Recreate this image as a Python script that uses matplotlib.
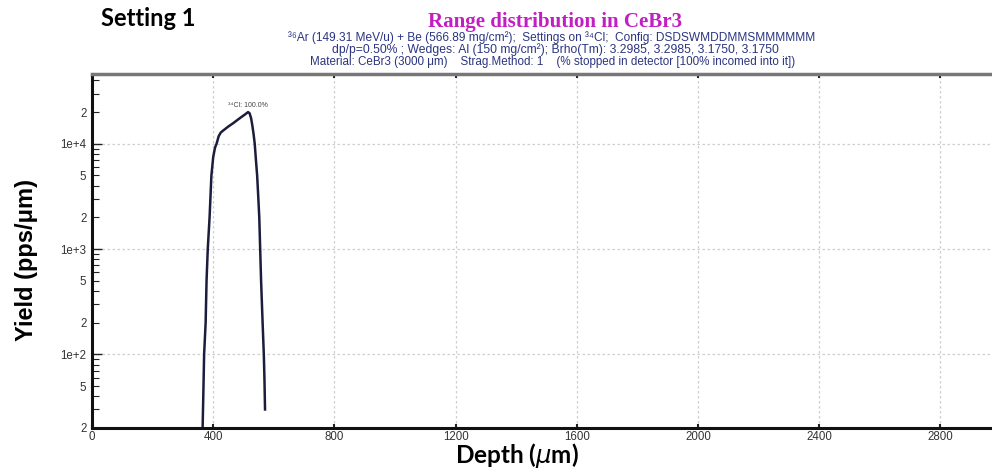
import matplotlib
matplotlib.use("Agg")
import matplotlib.pyplot as plt
from matplotlib.ticker import FixedLocator, FuncFormatter, NullFormatter

# Data
depth = [365, 367, 370, 375, 378, 382, 388, 394, 400, 406, 411, 418, 425, 432,
         450, 466, 490, 505, 515, 520, 525, 529, 533, 537, 541, 545, 549, 552,
         555, 558, 563, 567, 569, 571]
yield_ = [20, 37, 100, 200, 500, 1000, 2000, 5000, 7500, 9200, 10000, 11800, 12800, 13300,
          14600, 15700, 17700, 19000, 20000, 19500, 17500, 15000, 12500, 10000, 7000, 5000,
          3000, 2000, 1000, 500, 200, 100, 60, 30]

x_ticks = [0, 400, 800, 1200, 1600, 2000, 2400, 2800]
y_decades = [100, 1000, 10000]
y_labeled = {20: "2", 50: "5", 100: "1e+2", 200: "2", 500: "5", 1000: "1e+3",
             2000: "2", 5000: "5", 10000: "1e+4", 20000: "2"}

SANS = ["Liberation Sans", "DejaVu Sans"]

fig = plt.figure(figsize=(9.92, 4.72), dpi=100)
ax = fig.add_axes([92/992, 1-428/472, 1-92/992, (428-74)/472])

ax.plot(depth, yield_, color="#1c1c3c", lw=1.8, solid_joinstyle="round")
ax.set_yscale("log")
ax.set_xlim(0, 2970)
ax.set_ylim(20, 46000)

ax.xaxis.set_major_locator(FixedLocator(x_ticks))
ax.xaxis.set_major_formatter(FuncFormatter(lambda v, p: f"{int(v)}"))
ax.yaxis.set_major_locator(FixedLocator(y_decades))
minors = [m * 10**e for e in range(1, 5) for m in range(2, 10) if 20 <= m * 10**e <= 46000]
ax.yaxis.set_minor_locator(FixedLocator(minors))
fmt = FuncFormatter(lambda v, p: y_labeled.get(int(round(v)), ""))
ax.yaxis.set_major_formatter(fmt)
ax.yaxis.set_minor_formatter(fmt)
ax.xaxis.set_minor_formatter(NullFormatter())

ax.grid(True, which="major", color="#cfcfcf", linestyle=(0, (2, 2)), lw=0.9)
ax.tick_params(axis="both", which="both", direction="in", labelsize=8.3,
               labelcolor="#333333", color="#222222")
ax.tick_params(axis="y", which="major", length=7, width=1)
ax.tick_params(axis="y", which="minor", length=5, width=0.8)
ax.tick_params(axis="x", which="major", length=3, width=1.5, top=True, pad=2)
ax.tick_params(axis="y", which="both", pad=4)
for lab in ax.get_xticklabels() + ax.get_yticklabels(minor=True) + ax.get_yticklabels():
    lab.set_family(SANS)

for s in ["left", "bottom"]:
    ax.spines[s].set_linewidth(2.2)
    ax.spines[s].set_color("#111111")
ax.spines["top"].set_linewidth(2.5)
ax.spines["top"].set_color("#777777")
ax.spines["right"].set_visible(False)

ax.set_xlabel(r"Depth ($\mu$m)", fontsize=17.5, fontweight="bold", family="Lato")
ax.xaxis.set_label_coords((517-92)/900, -0.038)
ax.set_ylabel("Yield (pps/μm)", fontsize=17, fontweight="bold", family=SANS)
ax.yaxis.set_label_coords(-(92-38)/900, (428-260)/354)

ax.text(515, 23000, "³⁴Cl: 100.0%", fontsize=5, color="#444444", family=SANS,
        ha="center", va="center")

fig.text(148/992, 1-18/472, "Setting 1", fontsize=17, fontweight="bold", family="Lato",
         ha="center", va="center")
fig.text(555/992, 1-21.5/472, "Range distribution in CeBr3", fontsize=15.1, fontweight="bold",
         family="Liberation Serif", color="#c21fc2", ha="center", va="center")
sub_color = "#2b3580"
fig.text(552/992, 1-37.5/472,
         "³⁶Ar (149.31 MeV/u) + Be (566.89 mg/cm²);  Settings on ³⁴Cl;  Config: DSDSWMDDMMSMMMMMM",
         fontsize=8.55, family=SANS, color=sub_color, ha="center", va="center")
fig.text(555/992, 1-50/472,
         "dp/p=0.50% ; Wedges: Al (150 mg/cm²); Brho(Tm): 3.2985, 3.2985, 3.1750, 3.1750",
         fontsize=8.7, family=SANS, color=sub_color, ha="center", va="center")
fig.text(553/992, 1-62/472,
         "Material: CeBr3 (3000 μm)    Strag.Method: 1    (% stopped in detector [100% incomed into it])",
         fontsize=8.4, family=SANS, color=sub_color, ha="center", va="center")

fig.savefig("out.png", dpi=100)
